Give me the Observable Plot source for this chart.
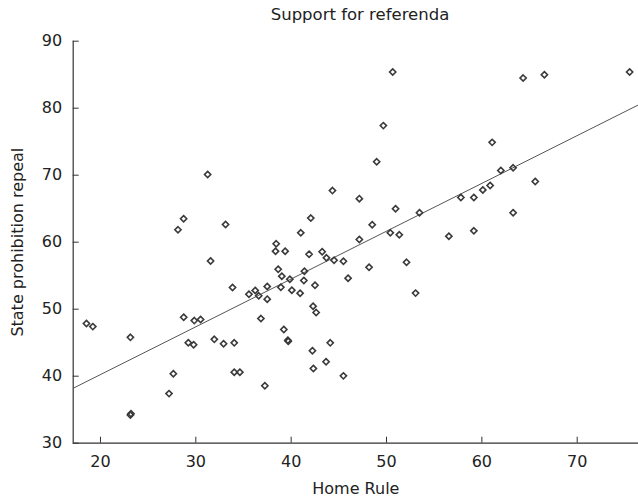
<!DOCTYPE html>
<html><head><meta charset="utf-8">
<script src="https://cdn.jsdelivr.net/npm/d3@7"></script>
<script src="https://cdn.jsdelivr.net/npm/@observablehq/plot@0.6"></script>
<style>
body{margin:0;background:#fff;font-family:"DejaVu Sans",sans-serif;}
#title{height:30px;line-height:30px;font-size:16.5px;color:#222;text-align:center;padding-left:82px;width:556px;white-space:nowrap;}
</style></head><body>
<div id="title">Support for referenda</div>
<div id="chart"></div>
<script>
const homeRule = [31.24,28.72,28.13,33.12,41.01,42.06,44.33,47.15,47.15,48.5,
  50.65,49.67,61.08,48.97,64.33,66.56,75.5,61.99,63.28,65.6,
  57.8,59.16,60.1,60.87,50.95,53.46,50.4,51.34,56.54,59.16,
  63.28,18.53,19.2,23.14,23.14,23.2,27.19,27.64,28.73,29.21,
  29.77,29.84,30.5,31.55,31.94,32.91,33.85,34.03,34.03,34.62,
  35.57,36.23,36.6,37.49,37.49,36.83,37.24,38.43,38.36,39.37,
  38.64,39.02,38.92,39.23,39.65,39.7,39.86,40.07,40.94,41.33,
  41.39,41.88,42.5,42.3,42.62,42.23,42.33,43.25,43.7,43.66,
  44.1,44.5,45.48,45.48,45.97,48.17,52.1,53.05];
const stateRepeal = [70.1,63.5,61.85,62.64,61.4,63.6,67.7,66.5,60.4,62.6,
  85.4,77.4,74.9,72.0,84.5,85.0,85.4,70.7,71.1,69.06,
  66.67,66.67,67.8,68.46,65.0,64.4,61.4,61.1,60.9,61.7,
  64.4,47.87,47.4,45.8,34.2,34.4,37.4,40.36,48.8,45.0,
  44.7,48.3,48.46,57.2,45.5,44.84,53.24,44.98,40.6,40.6,
  52.24,52.8,52.0,53.4,51.5,48.6,38.57,59.76,58.66,58.66,
  55.97,54.93,53.28,46.97,45.37,45.2,54.48,52.84,52.39,54.28,
  55.67,58.2,53.58,50.45,49.5,43.8,41.15,58.57,57.67,42.15,
  44.98,57.3,57.16,40.05,54.63,56.27,57.0,52.4];
const xTicks = [20,30,40,50,60,70];
const yTicks = [30,40,50,60,70,80,90];
const xDomain = [17.14,76.43];
const yDomain = [30,90];
const fitHomeRule = [17.14,76.43];
const fitRepeal = [38.2,80.5];

const points = homeRule.map((x,i)=>({x, y: stateRepeal[i]}));
const fit = fitHomeRule.map((x,i)=>({x, y: fitRepeal[i]}));

const plot = Plot.plot({
  width: 638, height: 471,
  marginTop: 10.7, marginBottom: 58.3, marginLeft: 72.7, marginRight: 0,
  style: {fontFamily: "DejaVu Sans", fontSize: "16px", color: "#222", background: "#fff", overflow: "visible"},
  x: {domain: xDomain},
  y: {domain: yDomain},
  marks: [
    Plot.ruleY([yDomain[0]], {stroke: "#333", strokeWidth: 1.2}),
    Plot.ruleX([xDomain[0]], {stroke: "#333", strokeWidth: 1.2}),
    Plot.axisY(yTicks, {anchor: "left", tickSize: 6, dx: 6, fill: "none", stroke: "#333", label: null}),
    Plot.axisY(yTicks, {anchor: "left", tickSize: 0, tickPadding: 11, fill: "#222", label: "State prohibition repeal", labelAnchor: "center", labelArrow: "none", labelOffset: 62}),
    Plot.axisX(xTicks, {anchor: "bottom", tickSize: 6, dy: -6, fill: "none", stroke: "#333", label: null}),
    Plot.axisX(xTicks, {anchor: "bottom", tickSize: 0, tickPadding: 12, fill: "#222", label: "Home Rule", labelAnchor: "center", labelArrow: "none", labelOffset: 51}),
    Plot.line(fit, {x: "x", y: "y", stroke: "#555", strokeWidth: 1}),
    Plot.dot(points, {x: "x", y: "y", symbol: "diamond2", r: 2.8, stroke: "#3a3a3a", strokeWidth: 1.6, fill: "none"})
  ]
});
document.getElementById("chart").appendChild(plot);
</script>
</body></html>
